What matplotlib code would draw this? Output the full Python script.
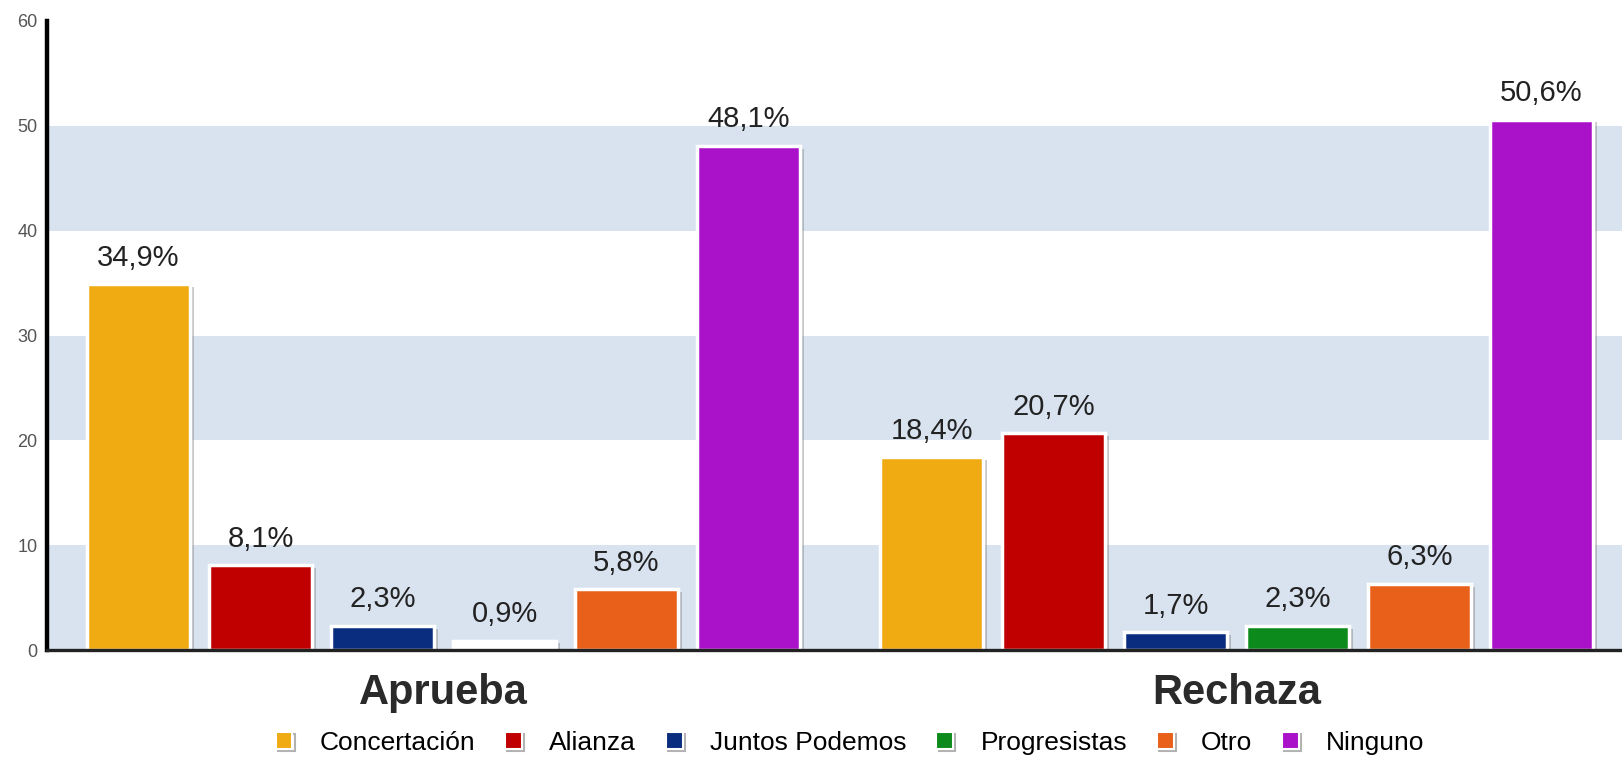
import matplotlib.pyplot as plt
import matplotlib.patheffects as pe
from matplotlib.lines import Line2D

plt.rcParams['font.family'] = ['Liberation Sans', 'DejaVu Sans']

GROUPS = ["Aprueba", "Rechaza"]
PARTIES = ["Concertación", "Alianza", "Juntos Podemos", "Progresistas", "Otro", "Ninguno"]
COLORS = ["#f0aa12", "#c00000", "#0b2d80", "#0c8a1c", "#e8601a", "#a912c8"]
APRUEBA = [34.9, 8.1, 2.3, 0.9, 5.8, 48.1]
RECHAZA = [18.4, 20.7, 1.7, 2.3, 6.3, 50.6]
VALUES = [APRUEBA, RECHAZA]
YTICKS = [0, 10, 20, 30, 40, 50, 60]

fig = plt.figure(figsize=(16.22, 7.57), dpi=100)
ax = fig.add_axes([0.029, 0.1413, 0.971, 0.831])

# alternating light blue bands
for lo in range(0, 60, 20):
    ax.axhspan(lo, lo + 10, color="#d9e3ef", zorder=0, lw=0)

shadow = [pe.SimplePatchShadow(offset=(3, -2), shadow_rgbFace="#777777", alpha=0.4), pe.Normal()]

group_gap = 0.5
for g, vals in enumerate(VALUES):
    start = g * (len(PARTIES) + group_gap)
    for i, v in enumerate(vals):
        x = start + i
        face = COLORS[i]
        # in the source chart the 0,9% bar of Aprueba is rendered white
        if g == 0 and PARTIES[i] == "Progresistas":
            face = "white"
        b = ax.bar(x, v, width=0.84, color=face, edgecolor="white", linewidth=2.5, zorder=3)
        b[0].set_path_effects(shadow)
        ax.annotate(f"{v:.1f}%".replace(".", ","), (x, v), xytext=(0, 9), textcoords="offset points",
                    ha="center", va="bottom", fontsize=21, color="#222222", zorder=4)
    center = start + (len(vals) - 1) / 2
    ax.text(center, -2.2, GROUPS[g], ha="center", va="top", fontsize=30, fontweight="bold",
            color="#2a2a2a")

ax.set_xlim(-0.75, 12.16)
ax.set_ylim(0, 60)
ax.set_yticks(YTICKS)
ax.set_xticks([])
ax.tick_params(axis="y", length=0, pad=7, labelsize=13, labelcolor="#555555")

ax.spines["top"].set_visible(False)
ax.spines["right"].set_visible(False)
ax.spines["left"].set_linewidth(3.2)
ax.spines["left"].set_color("black")
ax.spines["bottom"].set_linewidth(2.4)
ax.spines["bottom"].set_color("#222222")
ax.spines["left"].set_zorder(5)
ax.spines["bottom"].set_zorder(5)

handles = [Line2D([], [], marker="s", linestyle="none", markersize=12, markerfacecolor=c,
                  markeredgecolor="white", markeredgewidth=1.5,
                  path_effects=[pe.SimpleLineShadow(offset=(1.5, -1.5), alpha=0.3), pe.Normal()])
           for c in COLORS]
fig.legend(handles, PARTIES, loc="center", bbox_to_anchor=(0.523, 0.019), ncol=6, frameon=False,
           fontsize=19, handlelength=0.9, handletextpad=0.9, columnspacing=1.0)

fig.savefig("out.png", dpi=100)
